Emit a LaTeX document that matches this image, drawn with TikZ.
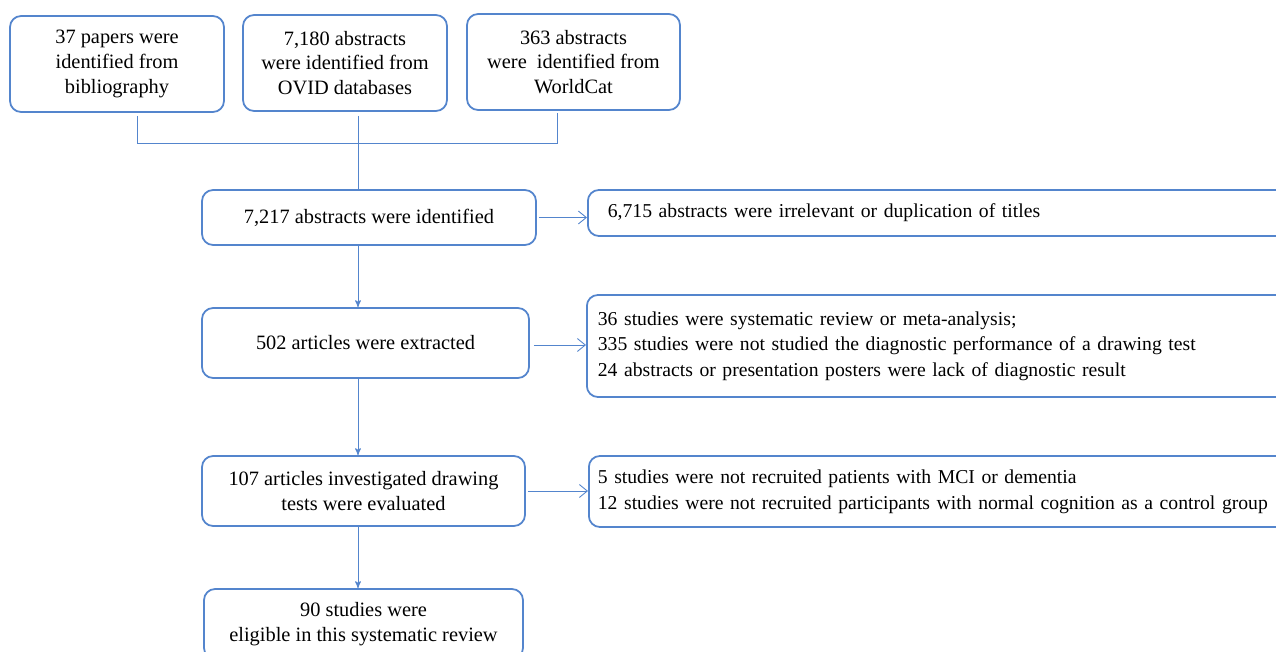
\documentclass[tikz,border=0pt]{standalone}
\usepackage{fontspec}
\setmainfont{Liberation Serif}
\usetikzlibrary{positioning,arrows,arrows.meta,calc}
\definecolor{flowblue}{RGB}{84,133,205}

\begin{document}
\begin{tikzpicture}[x=0.02cm,y=-0.02cm,>=stealth',
    box/.style={draw=flowblue,line width=1pt,rounded corners=0.22cm,align=center,inner sep=0pt,
        font=\fontsize{11.6}{14}\selectfont},
    note/.style={draw=flowblue,line width=1pt,rounded corners=0.22cm,align=left,anchor=west,inner ysep=0pt,
        font=\fontsize{11.2}{14.6}\selectfont},
    link/.style={flowblue,line width=0.5pt},
    side/.style={link,-{Straight Barb[length=1.6mm,width=2.6mm]}}
]
      \useasboundingbox (0,0) rectangle (1276,652);
      \clip (0,0) rectangle (1276,652);

      % sources
      \node [box,minimum width=4.28cm,minimum height=1.92cm] (biblio) at (117,64) {37 papers were\\identified from\\bibliography};
      \node [box,minimum width=4.08cm,minimum height=1.92cm] (ovid) at (345,63) {7,180 abstracts\\were identified from\\OVID databases};
      \node [box,minimum width=4.26cm,minimum height=1.92cm] (worldcat) at (573.5,62) {363 abstracts\\were\ \ identified from\\WorldCat};

      % main flow
      \node [box,minimum width=6.68cm,minimum height=1.1cm] (identified) at (369,217.5) {7,217 abstracts were identified};
      \node [box,minimum width=6.54cm,minimum height=1.4cm] (extracted) at (365.5,343) {502 articles were extracted};
      \node [box,minimum width=6.46cm,minimum height=1.4cm] (evaluated) at (363.5,491) {107 articles investigated drawing\\tests were evaluated};
      \node [box,minimum width=6.38cm,minimum height=1.4cm] (eligible) at (363.5,624) {90 studies were\\eligible in this systematic review};

      % exclusions
      \node [note,inner xsep=0.4cm,text width=14.5cm,minimum height=0.92cm] (irrelevant) at (587,213) {6,715 abstracts were irrelevant or duplication of titles};
      \node [note,inner xsep=0.22cm,text width=14.5cm,minimum height=2.04cm] (excluded) at (586,346) {36 studies were systematic review or meta-analysis;\\335 studies were not studied the diagnostic performance of a drawing test\\24 abstracts or presentation posters were lack of diagnostic result};
      \node [note,inner xsep=0.18cm,text width=14.5cm,minimum height=1.42cm] (norecruit) at (588,491.5) {5 studies were not recruited patients with MCI or dementia\\12 studies were not recruited participants with normal cognition as a control group};

      \coordinate (spine) at (358,0);
      \coordinate (joinL) at (137,143);
      \coordinate (joinR) at (557,143);

      \draw [link] ($(biblio.south -| joinL)+(0,3)$) -- (joinL) -- (joinR) -- ($(worldcat.south -| joinR)+(0,2)$);
      \draw [link] ($(ovid.south -| spine)+(0,4)$) -- (identified.north -| spine);

      \draw [link,->] (identified.south -| spine) -- (extracted.north -| spine);
      \draw [link,->] (extracted.south -| spine) -- (evaluated.north -| spine);
      \draw [link,->] (evaluated.south -| spine) -- (eligible.north -| spine);

      \draw [side] ($(identified.east)+(2,0)$) -- (identified.east -| irrelevant.west);
      \draw [side] ($(extracted.east)+(4,2)$) -- ($(extracted.east -| excluded.west)+(0,2)$);
      \draw [side] ($(evaluated.east)+(2,0)$) -- (evaluated.east -| norecruit.west);

    \end{tikzpicture}
\end{document}
